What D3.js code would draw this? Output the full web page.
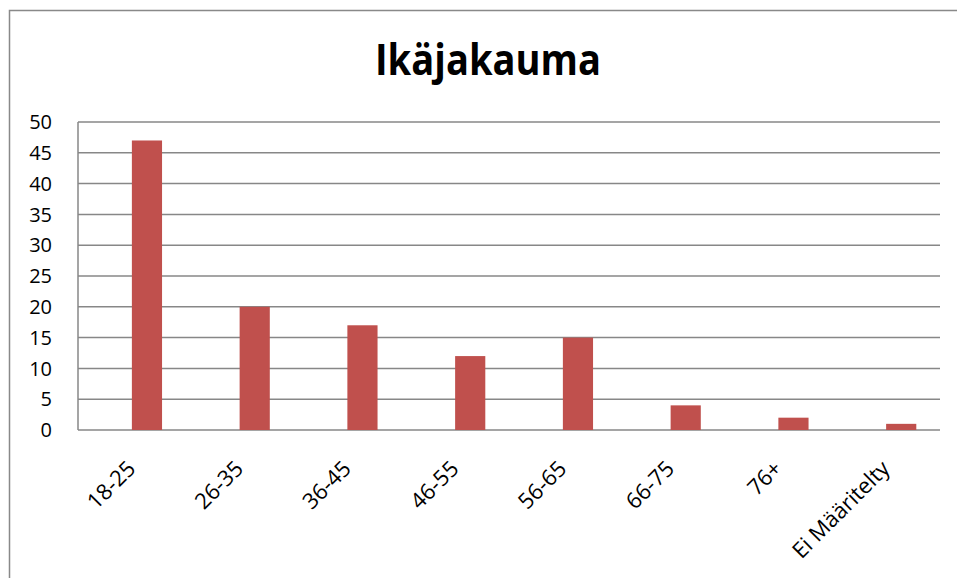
<!DOCTYPE html>
<html><head><meta charset="utf-8">
<script src="https://cdn.jsdelivr.net/npm/d3@7"></script>
<style>body{margin:0;background:#fff}svg{display:block}</style>
</head><body>
<script>
const categories = ["18-25","26-35","36-45","46-55","56-65","66-75","76+","Ei Määritelty"];
const values = [47,20,17,12,15,4,2,1];
const yTicks = [0,5,10,15,20,25,30,35,40,45,50];
const title = "Ikäjakauma";

const W = 957, H = 578;
const svg = d3.select("body").append("svg").attr("width", W).attr("height", H);
svg.append("rect").attr("width", W).attr("height", H).attr("fill", "#fff");
// outer frame
svg.append("path").attr("d", `M9.5,${H} V10.5 H${W}`).attr("fill","none").attr("stroke","#898989").attr("stroke-width",1.5);

const m = {left:78, right:940, top:122, bottom:430};
const x = d3.scaleBand().domain(categories).range([m.left, m.right]).padding(0);
const y = d3.scaleLinear().domain([0,50]).range([m.bottom, m.top]);
const font = "'Open Sans', sans-serif";

// gridlines
svg.append("g").selectAll("line").data(yTicks).join("line")
  .attr("x1", m.left).attr("x2", m.right)
  .attr("y1", d=>y(d)).attr("y2", d=>y(d))
  .attr("stroke","#878787").attr("stroke-width",1.5);
// y axis line
svg.append("line").attr("x1",m.left).attr("x2",m.left).attr("y1",m.top).attr("y2",m.bottom)
  .attr("stroke","#878787").attr("stroke-width",1.5);

// bars
const bw = x.bandwidth();
svg.append("g").selectAll("rect").data(values).join("rect")
  .attr("x", (d,i)=> x(categories[i]) + bw/2)
  .attr("width", bw*0.28)
  .attr("y", d=>y(d)).attr("height", d=>y(0)-y(d))
  .attr("fill","#C0504D");

// y labels
svg.append("g").selectAll("text").data(yTicks).join("text")
  .attr("x", 52).attr("y", d=>y(d)).attr("dy","0.36em")
  .attr("text-anchor","end").attr("font-family",font).attr("font-size",20).attr("fill","#000")
  .text(d=>d);

// x labels
svg.append("g").selectAll("text").data(categories).join("text")
  .attr("transform", d=>`translate(${x(d)+bw/2+5},${m.bottom+40}) rotate(-45)`)
  .attr("text-anchor","end")
  .attr("font-family",font).attr("font-size",22).attr("fill","#000")
  .text(d=>d);

// title
svg.append("text").attr("x", 488).attr("y", 75).attr("text-anchor","middle")
  .attr("font-family",font).attr("font-weight","bold").attr("font-size",43).attr("fill","#000")
  .attr("textLength", 226).attr("lengthAdjust","spacingAndGlyphs")
  .text(title);
</script>
</body></html>
